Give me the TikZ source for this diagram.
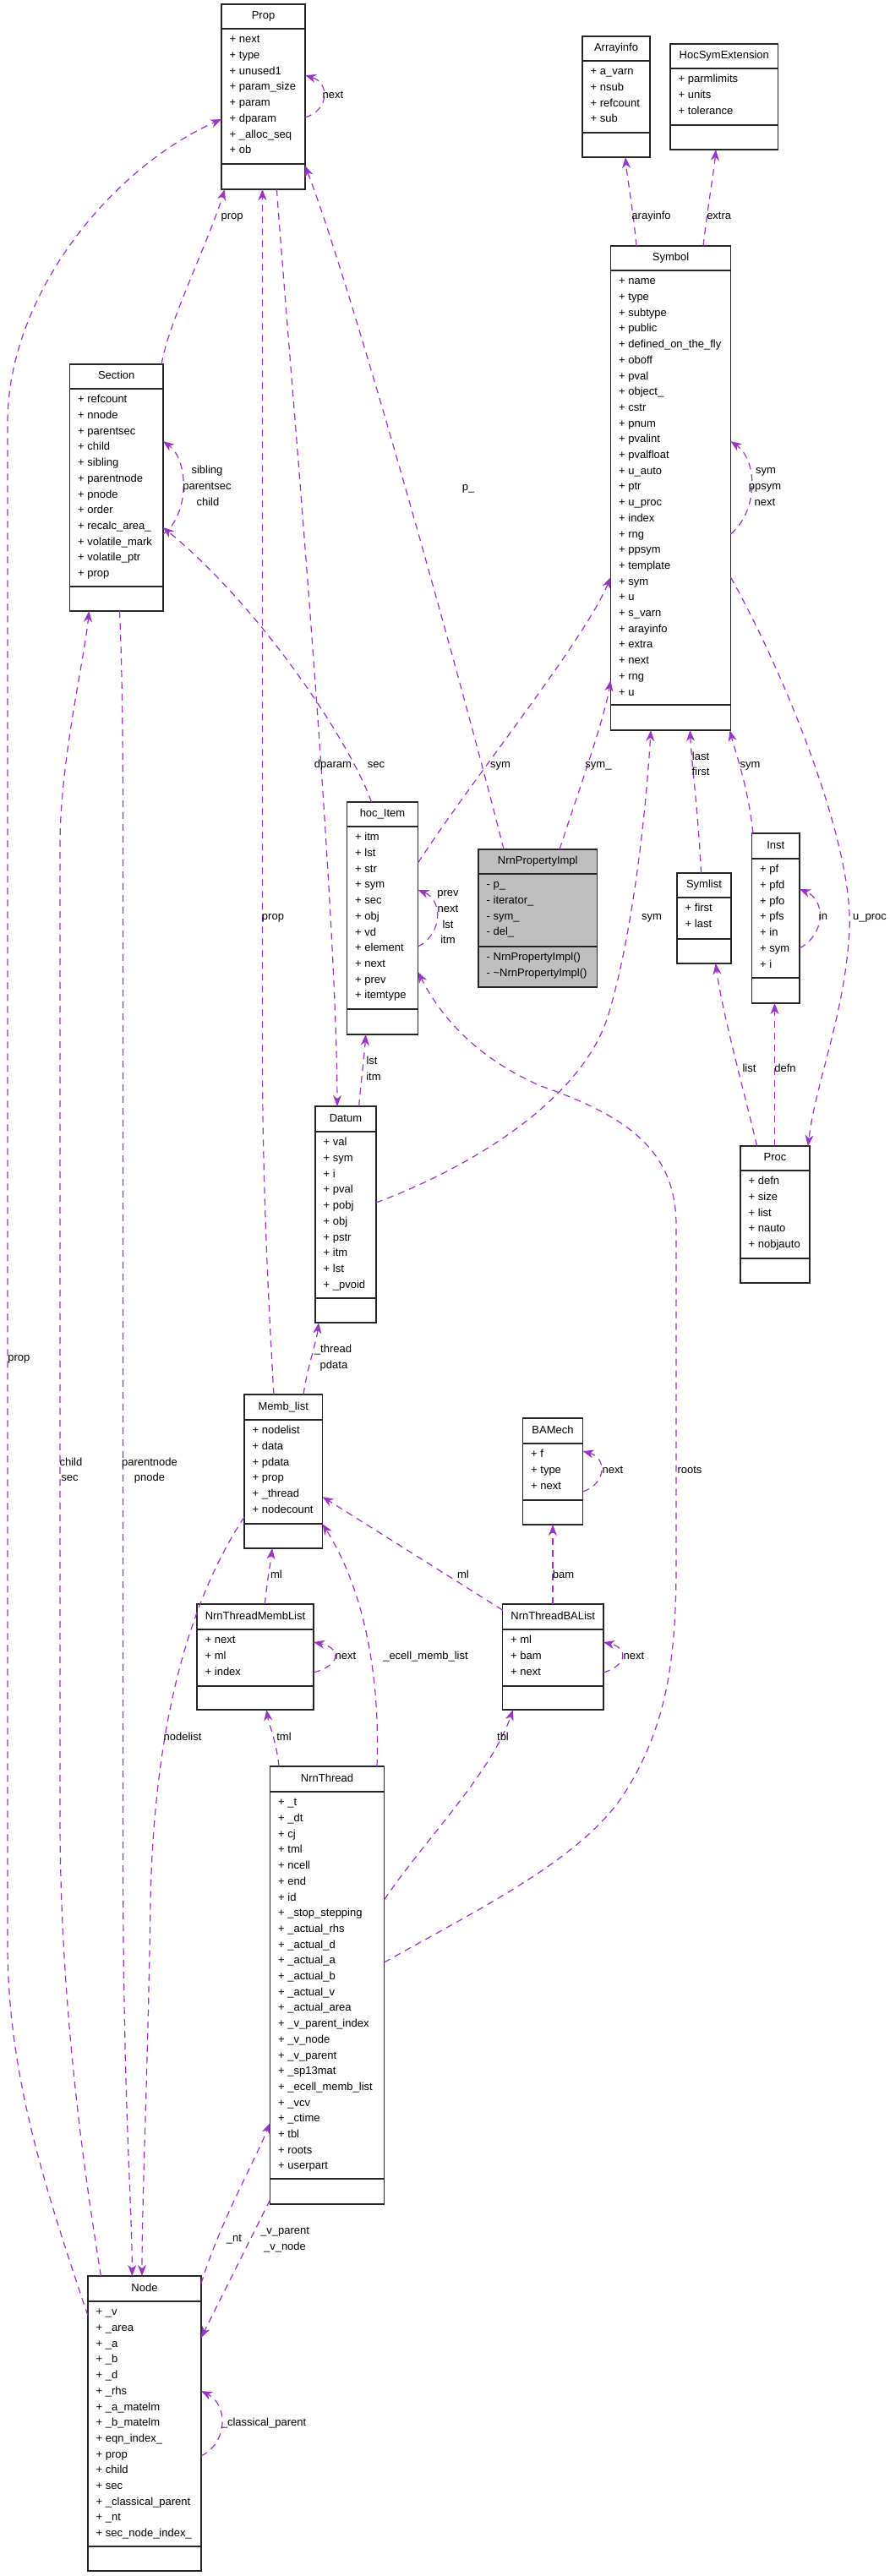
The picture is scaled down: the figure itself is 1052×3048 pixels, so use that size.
\documentclass[tikz,border=0pt]{standalone}
\usepackage{fontspec}
\setmainfont{Liberation Sans}
\usetikzlibrary{calc,arrows.meta}
\definecolor{orchid}{HTML}{9A32CD}
\definecolor{implgray}{HTML}{BFBFBF}
\newcommand\lblfont{\fontsize{13}{15}\selectfont}
\def\rowprefix{+}
\tikzset{
  clsbox/.style={draw=black!85, line width=1.4pt, fill=white, inner sep=0pt, outer sep=0pt},
  sepline/.style={draw=black!85, line width=2pt},
  ttl/.style={font=\lblfont, inner sep=0pt, text height=9.4pt, text depth=2.7pt},
  rowtxt/.style={font=\lblfont, inner sep=0pt, anchor=west, text height=9.4pt, text depth=2.7pt},
  rel/.style={draw=orchid, line width=1.2pt, dash pattern=on 8pt off 6pt,
    -{Stealth[length=13pt,width=10pt,inset=4pt]}},
  lab/.style={font=\lblfont, inner sep=0pt, text height=9.4pt, text depth=2.7pt}
}
% #1 name, #2 x, #3 y, #4 width, #5 height, #6 title sep, #7 attr sep, #8 title, #9 rows
\newcommand\umlbox[9]{%
  \node[clsbox, minimum width=#4pt, minimum height=#5pt, anchor=north west] (#1) at (#2,#3) {};
  \draw[sepline] ($(#1.north west)+(0,#6)$) -- ($(#1.north east)+(0,#6)$);
  \draw[sepline] ($(#1.north west)+(0,#7)$) -- ($(#1.north east)+(0,#7)$);
  \node[ttl] (#1-t) at ($(#1.north)+(0,#6/2)$) {#8};
  \foreach \t [count=\i from 0] in {#9} {
    \node[rowtxt] (#1-r\i) at ($(#1.north west)+(9.5,#6+13.5+\i*18.7)$) {\rowprefix\ \t};
  }
}
\begin{document}
\begin{tikzpicture}[x=1pt,y=-1pt]
\useasboundingbox (0,0) rectangle (1052,3048);

% ---------- classes ----------
\umlbox{prop}{262}{5}{99}{219}{29}{189}{Prop}{next,type,unused1,param\_size,param,dparam,\_alloc\_seq,ob}
\umlbox{arrayinfo}{689}{43}{80}{143}{29}{114}{Arrayinfo}{a\_varn,nsub,refcount,sub}
\umlbox{hocsym}{793}{52}{127.5}{125}{29}{96}{HocSymExtension}{parmlimits,units,tolerance}
\umlbox{symbol}{722.5}{291}{142}{573}{29}{543}{Symbol}{name,type,subtype,public,defined\_on\_the\_fly,oboff,pval,object\_,cstr,pnum,pvalint,pvalfloat,u\_auto,ptr,u\_proc,index,rng,ppsym,template,sym,u,s\_varn,arayinfo,extra,next,rng,u}
\umlbox{section}{82.5}{431}{110.5}{292}{29}{263}{Section}{refcount,nnode,parentsec,child,sibling,parentnode,pnode,order,recalc\_area\_,volatile\_mark,volatile\_ptr,prop}
\umlbox{hocitem}{410.5}{949}{84}{275}{29}{245}{hoc\_Item}{itm,lst,str,sym,sec,obj,vd,element,next,prev,itemtype}
\begin{scope}[clsbox/.append style={fill=implgray}]
\def\rowprefix{-}
\umlbox{nrnprop}{566}{1005}{140.5}{163}{29}{115}{NrnPropertyImpl}{p\_,iterator\_,sym\_,del\_}
\node[rowtxt] (nrnprop-m0) at ($(nrnprop.north west)+(9.5,128)$) {- NrnPropertyImpl()};
\node[rowtxt] (nrnprop-m1) at ($(nrnprop.north west)+(9.5,146.7)$) {- \textasciitilde NrnPropertyImpl()};
\end{scope}
\umlbox{symlist}{801}{1033}{64}{107}{29}{78}{Symlist}{first,last}
\umlbox{inst}{889.5}{986}{56.5}{201}{30}{171}{Inst}{pf,pfd,pfo,pfs,in,sym,i}
\umlbox{datum}{373}{1309}{72}{256}{30}{227}{Datum}{val,sym,i,pval,pobj,obj,pstr,itm,lst,\_pvoid}
\umlbox{proc}{876}{1356}{82}{162}{29}{133}{Proc}{defn,size,list,nauto,nobjauto}
\umlbox{memb}{289}{1650}{92.5}{182}{30}{153}{Memb\_list}{nodelist,data,pdata,prop,\_thread,nodecount}
\umlbox{bamech}{618.5}{1678}{71}{126}{30}{97}{BAMech}{f,type,next}
\umlbox{ntml}{233}{1898}{138}{125}{30}{97}{NrnThreadMembList}{next,ml,index}
\umlbox{ntba}{594.5}{1898}{119.5}{125}{30}{97}{NrnThreadBAList}{ml,bam,next}
\umlbox{nthread}{319.5}{2090}{135}{518}{30}{488}{NrnThread}{\_t,\_dt,cj,tml,ncell,end,id,\_stop\_stepping,\_actual\_rhs,\_actual\_d,\_actual\_a,\_actual\_b,\_actual\_v,\_actual\_area,\_v\_parent\_index,\_v\_node,\_v\_parent,\_sp13mat,\_ecell\_memb\_list,\_vcv,\_ctime,tbl,roots,userpart}
\umlbox{node}{104}{2693}{134}{349}{30}{320}{Node}{\_v,\_area,\_a,\_b,\_d,\_rhs,\_a\_matelm,\_b\_matelm,eqn\_index\_,prop,child,sec,\_classical\_parent,\_nt,sec\_node\_index\_}

% ---------- relations ----------
\draw[rel] ($(prop.north east)+(0,134)$) .. controls (390,130) and (390,98) .. ($(prop.north east)+(0,84)$);
\draw[rel] ($(section.north west)+(108.5,0)$) .. controls (200,380) and (245,290) .. ($(prop.south west)+(4,0)$);
\draw[rel] ($(node.north west)+(0,47)$) .. controls (50,2580) and (9,2450) .. (9,2300) -- (9,500) .. controls (9,350) and (130,200) .. ($(prop.north west)+(0,136)$);
\draw[rel] ($(node.north west)+(15.4,0)$) .. controls (108,2620) and (71,2400) .. (71,2150) -- (71,1000) .. controls (71,900) and (100,780) .. ($(section.south west)+(22.8,0)$);
\draw[rel] ($(section.south west)+(59,0)$) .. controls (145,800) and (145.5,900) .. (145.5,1000) -- (145.5,2200) .. controls (146,2500) and (156,2600) .. ($(node.north west)+(52.3,0)$);
\draw[rel] ($(memb.north west)+(0,145)$) .. controls (220,1900) and (182,2050) .. (178,2250) .. controls (175,2450) and (168,2600) .. ($(node.north west)+(64,0)$);
\draw[rel] ($(section.north east)+(0,201)$) .. controls (224,610) and (224,545) .. ($(section.north east)+(0,91)$);
\draw[rel] ($(hocitem.north west)+(29,0)$) .. controls (415,880) and (310,720) .. ($(section.north east)+(0,193)$);
\draw[rel] ($(memb.north west)+(35,0)$) .. controls (318,1550) and (310.5,1400) .. (310.5,1250) -- ($(prop.south west)+(48.5,0)$);
\draw[rel] ($(prop.south west)+(65.4,0)$) .. controls (340,400) and (398,1050) .. ($(datum.north west)+(26,0)$);
\draw[rel] ($(nrnprop.north west)+(30,0)$) .. controls (560,860) and (420,350) .. ($(prop.north east)+(0,191)$);
\draw[rel] ($(hocitem.north east)+(0,72)$) .. controls (560,920) and (690,760) .. ($(symbol.north west)+(0,392)$);
\draw[rel] ($(nrnprop.north west)+(96,0)$) .. controls (690,920) and (715,850) .. ($(symbol.north west)+(0,514)$);
\draw[rel] ($(datum.north east)+(0,114)$) .. controls (560,1380) and (690,1300) .. (720,1200) .. controls (750,1100) and (765,950) .. ($(symbol.south west)+(47.5,0)$);
\draw[rel] ($(symlist.north west)+(28.5,0)$) .. controls (826,960) and (818,900) .. ($(symbol.south west)+(94,0)$);
\draw[rel] ($(inst.north west)+(1.5,0)$) .. controls (885,930) and (870,890) .. ($(symbol.south west)+(141,0)$);
\draw[rel] ($(symbol.north east)+(0,341)$) .. controls (897,605) and (897,545) .. ($(symbol.north east)+(0,231)$);
\draw[rel] ($(symbol.north east)+(0,392)$) .. controls (930,800) and (1010,1000) .. (1005,1100) .. controls (1000,1200) and (965,1280) .. ($(proc.north west)+(80,0)$);
\draw[rel] ($(symbol.north west)+(30.5,0)$) .. controls (748,240) and (742,210) .. ($(arrayinfo.south west)+(51,0)$);
\draw[rel] ($(symbol.north west)+(109.5,0)$) .. controls (838,240) and (845,200) .. ($(hocsym.south west)+(54,0)$);
\draw[rel] ($(inst.north east)+(0,136)$) .. controls (977,1105) and (977,1065) .. ($(inst.north east)+(0,66)$);
\draw[rel] ($(proc.north west)+(19.6,0)$) .. controls (880,1290) and (855,1200) .. ($(symlist.south west)+(45.7,0)$);
\draw[rel] ($(proc.north west)+(40.5,0)$) -- ($(inst.south west)+(27,0)$);
\draw[rel] ($(hocitem.north east)+(0,171)$) .. controls (524,1105) and (524,1065) .. ($(hocitem.north east)+(0,104)$);
\draw[rel] ($(datum.north west)+(51.7,0)$) .. controls (427,1280) and (431,1250) .. ($(hocitem.south west)+(22.2,0)$);
\draw[rel] ($(nthread.north east)+(0,232)$) .. controls (560,2262) and (690,2200) .. (740,2120) .. controls (790,2040) and (800,1960) .. (800,1850) -- (800,1450) .. controls (800,1360) and (740,1320) .. (640,1285) .. controls (560,1250) and (520,1200) .. ($(hocitem.north east)+(0,201)$);
\draw[rel] ($(memb.north west)+(70,0)$) .. controls (363,1620) and (374,1590) .. ($(datum.south west)+(4,0)$);
\draw[rel] ($(ntml.north west)+(80.4,0)$) .. controls (316,1870) and (320,1850) .. ($(memb.south west)+(33,0)$);
\draw[rel] ($(nthread.north west)+(126.5,0)$) .. controls (450,1980) and (430,1880) .. ($(memb.north east)+(0,153)$);
\draw[rel] ($(ntba.north west)+(0,7)$) -- ($(memb.north east)+(0,121)$);
\draw[rel] ($(ntba.north west)+(59.5,0)$) -- ($(bamech.south west)+(35.5,0)$);
\draw[rel] ($(bamech.north east)+(0,87)$) .. controls (718,1755) and (718,1725) .. ($(bamech.north east)+(0,39)$);
\draw[rel] ($(ntml.north east)+(0,81)$) .. controls (404,1970) and (404,1950) .. ($(ntml.north east)+(0,45)$);
\draw[rel] ($(ntba.north east)+(0,81)$) .. controls (743,1970) and (743,1950) .. ($(ntba.north east)+(0,45)$);
\draw[rel] ($(nthread.north west)+(10.5,0)$) .. controls (327,2060) and (318,2040) .. ($(ntml.south west)+(82.3,0)$);
\draw[rel] ($(nthread.north east)+(0,158)$) .. controls (500,2180) and (580,2100) .. ($(ntba.south west)+(12.5,0)$);
\draw[rel] ($(node.north east)+(0,9)$) .. controls (260,2630) and (300,2560) .. ($(nthread.north west)+(0,422)$);
\draw[rel] ($(nthread.south west)+(0,-5)$) -- ($(node.north east)+(0,73)$);
\draw[rel] ($(node.north east)+(0,213)$) .. controls (270,2890) and (270,2845) .. ($(node.north east)+(0,136)$);

% ---------- labels ----------
\node[lab] (l1) at (394,113) {next};
\node[lab] (l2) at (274.6,256) {prop};
\node[lab] (l3) at (770.6,256) {arayinfo};
\node[lab] (l4) at (850.7,256) {extra};
\node[lab] (l5) at (245,557) {sibling};
\node[lab] (l6) at (245,576) {parentsec};
\node[lab] (l7) at (246,595) {child};
\node[lab] (l8) at (554,577) {p\_};
\node[lab] (l9) at (906,557) {sym};
\node[lab] (l10) at (905,576) {ppsym};
\node[lab] (l11) at (905,595) {next};
\node[lab] (l12) at (394,905) {dparam};
\node[lab] (l13) at (445,905) {sec};
\node[lab] (l14) at (592,905) {sym};
\node[lab] (l15) at (708,905) {sym\_};
\node[lab] (l16) at (829,896) {last};
\node[lab] (l17) at (829,914) {first};
\node[lab] (l18) at (887.5,905) {sym};
\node[lab] (l19) at (323,1085) {prop};
\node[lab] (l20) at (530,1057) {prev};
\node[lab] (l21) at (530,1076) {next};
\node[lab] (l22) at (530,1095) {lst};
\node[lab] (l23) at (530,1113) {itm};
\node[lab] (l24) at (771,1085) {sym};
\node[lab] (l25) at (974,1085) {in};
\node[lab] (l26) at (1029,1085) {u\_proc};
\node[lab] (l27) at (440,1256) {lst};
\node[lab] (l28) at (442,1275) {itm};
\node[lab] (l29) at (886.5,1265) {list};
\node[lab] (l30) at (929,1265) {defn};
\node[lab] (l31) at (22.4,1607) {prop};
\node[lab] (l32) at (394,1597) {\_thread};
\node[lab] (l33) at (395,1616) {pdata};
\node[lab] (l34) at (84,1731) {child};
\node[lab] (l35) at (82.6,1749) {sec};
\node[lab] (l36) at (177,1731) {parentnode};
\node[lab] (l37) at (177,1749) {pnode};
\node[lab] (l38) at (725,1740) {next};
\node[lab] (l39) at (816,1740) {roots};
\node[lab] (l40) at (327,1864) {ml};
\node[lab] (l41) at (548,1864) {ml};
\node[lab] (l42) at (666.6,1864) {bam};
\node[lab] (l43) at (409,1960) {next};
\node[lab] (l44) at (503.5,1960) {\_ecell\_memb\_list};
\node[lab] (l45) at (750,1960) {next};
\node[lab] (l46) at (216,2056) {nodelist};
\node[lab] (l47) at (336,2056) {tml};
\node[lab] (l48) at (595,2056) {tbl};
\node[lab] (l49) at (277,2649) {\_nt};
\node[lab] (l50) at (337,2640) {\_v\_parent};
\node[lab] (l51) at (337,2659) {\_v\_node};
\node[lab] (l52) at (312,2867) {\_classical\_parent};
\end{tikzpicture}
\end{document}
